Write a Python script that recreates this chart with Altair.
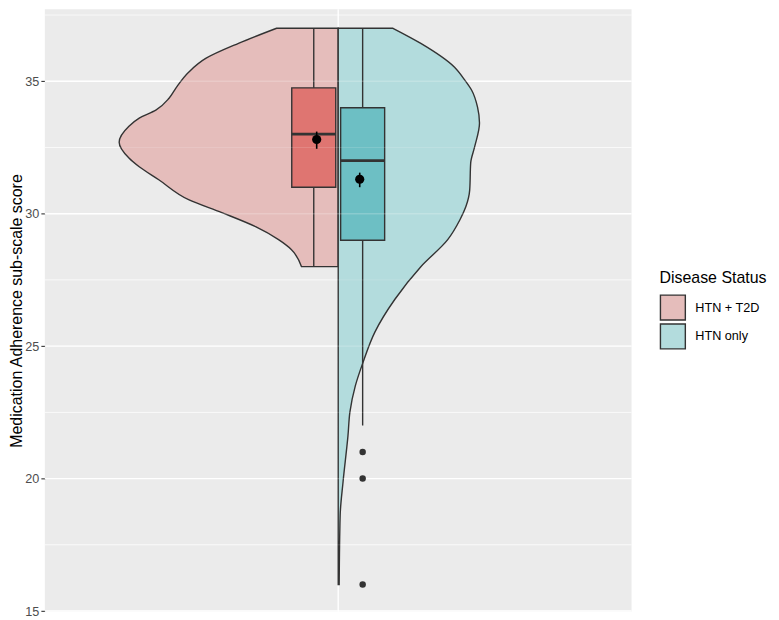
import altair as alt
import pandas as pd

groups = ["HTN + T2D", "HTN only"]

# Violin outline (score, half-width in x-scale units)
t2d_y = [28.0, 28.65, 29.02, 29.51, 30.04, 30.53, 31.28, 31.77, 32.1, 32.7, 33.3,
         33.61, 33.91, 34.36, 34.74, 35.34, 35.86, 36.43, 37.0]
t2d_w = [0.075, 0.096, 0.122, 0.169, 0.238, 0.306, 0.367, 0.407, 0.428, 0.448, 0.428,
         0.407, 0.373, 0.346, 0.332, 0.306, 0.271, 0.204, 0.126]
htn_y = [16.0, 18.61, 19.89, 21.62, 22.52, 23.5, 24.4, 25.53, 26.77, 28.0, 29.02,
         29.77, 30.26, 30.9, 31.92, 32.52, 33.42, 34.02, 34.66, 35.04, 35.53, 36.43, 37.0]
htn_w = [0.002, 0.004, 0.010, 0.020, 0.024, 0.035, 0.051, 0.075, 0.116, 0.169, 0.224,
         0.249, 0.261, 0.269, 0.271, 0.279, 0.289, 0.285, 0.273, 0.259, 0.238, 0.169, 0.112]

# Box plot statistics
box_lower = [28, 22]
box_q1 = [31, 29]
box_median = [33, 32]
box_q3 = [34.75, 34]
box_upper = [37, 37]
mean_val = [32.8, 31.3]
mean_lo = [32.45, 31.0]
mean_hi = [33.1, 31.55]
outliers_htn = [21, 20, 16]

major_grid = [15, 20, 25, 30, 35]
minor_grid = [17.5, 22.5, 27.5, 32.5, 37.5]
y_ticks = [15, 20, 25, 30, 35]

violin_colors = ["#E5BDBB", "#B3DCDD"]
box_colors = ["#DF7571", "#6DBFC4"]

BOX_OFF = 0.05
BOX_HALF = 0.045
MEAN_OFF = 0.044

vrows = []
for y, w in zip(t2d_y, t2d_w):
    vrows.append({"group": groups[0], "score": y, "x1": -w, "x2": 0.0})
for y, w in zip(htn_y, htn_w):
    vrows.append({"group": groups[1], "score": y, "x1": 0.0, "x2": w})
vdf = pd.DataFrame(vrows)

bdf = pd.DataFrame({
    "group": groups,
    "cx": [-BOX_OFF, BOX_OFF],
    "bx1": [-BOX_OFF - BOX_HALF, BOX_OFF - BOX_HALF],
    "bx2": [-BOX_OFF + BOX_HALF, BOX_OFF + BOX_HALF],
    "mx": [-MEAN_OFF, MEAN_OFF],
    "lower": box_lower, "q1": box_q1, "median": box_median, "q3": box_q3,
    "upper": box_upper, "mean": mean_val, "mlo": mean_lo, "mhi": mean_hi,
})
odf = pd.DataFrame({"cx": [BOX_OFF] * len(outliers_htn), "score": outliers_htn})

xscale = alt.Scale(domain=[-0.6, 0.6], nice=False, zero=False)
yscale = alt.Scale(domain=[14.97, 37.72], nice=False, zero=False)

yaxis = alt.Axis(values=y_ticks, grid=False, domain=False, tickColor="#333333",
                 tickSize=4, tickWidth=1.1, labelColor="#4D4D4D", labelFontSize=12.7,
                 labelFont="Liberation Sans", labelPadding=2,
                 title="Medication Adherence sub-scale score", titleFontSize=16,
                 titleFont="Liberation Sans", titleFontWeight="normal",
                 titleColor="#000000", titlePadding=0)


def X(f):
    return alt.X(f, type="quantitative", scale=xscale, axis=None, stack=None)


def Y(f):
    return alt.Y(f, type="quantitative", scale=yscale, axis=yaxis,
                 title="Medication Adherence sub-scale score")


gmaj = alt.Chart(pd.DataFrame({"v": major_grid})).mark_rule(
    color="white", strokeWidth=1.4).encode(y=Y("v"))
gmin = alt.Chart(pd.DataFrame({"v": minor_grid})).mark_rule(
    color="white", strokeWidth=0.7).encode(y=Y("v"))
gvert = alt.Chart(pd.DataFrame({"v": [0.0]})).mark_rule(
    color="white", strokeWidth=1.4).encode(x=X("v"))

violin = alt.Chart(vdf).mark_area(
    orient="horizontal", interpolate="monotone", stroke="#333333", strokeWidth=1.4,
    fillOpacity=1).encode(
    y=Y("score"), x=X("x1"), x2="x2",
    fill=alt.Fill("group:N", scale=alt.Scale(domain=groups, range=violin_colors),
                  legend=alt.Legend(title="Disease Status")),
    detail="group:N",
)

whisk = alt.Chart(bdf).mark_rule(color="#333333", strokeWidth=1.4).encode(
    x=X("cx"), y=Y("lower"), y2="upper")
box = alt.Chart(bdf).mark_rect(stroke="#333333", strokeWidth=1.4).encode(
    x=X("bx1"), x2="bx2", y=Y("q1"), y2="q3",
    color=alt.Color("group:N", scale=alt.Scale(domain=groups, range=box_colors),
                    legend=None))
med = alt.Chart(bdf).mark_rule(color="#333333", strokeWidth=2.8).encode(
    x=X("bx1"), x2="bx2", y=Y("median"))

gover = alt.Chart(pd.DataFrame({"v": major_grid})).mark_rule(
    color="white", strokeWidth=1.4, opacity=0.2).encode(y=Y("v"))
gover2 = alt.Chart(pd.DataFrame({"v": minor_grid})).mark_rule(
    color="white", strokeWidth=0.7, opacity=0.2).encode(y=Y("v"))

outl = alt.Chart(odf).mark_circle(color="#333333", size=42, opacity=1).encode(
    x=X("cx"), y=Y("score"))
merr = alt.Chart(bdf).mark_rule(color="black", strokeWidth=1.6).encode(
    x=X("mx"), y=Y("mlo"), y2="mhi")
mpt = alt.Chart(bdf).mark_circle(color="black", size=85, opacity=1).encode(
    x=X("mx"), y=Y("mean"))

chart = alt.layer(gmaj, gmin, gvert, violin, whisk, box, med, gover, gover2,
                  outl, merr, mpt).resolve_scale(
    fill="independent", color="independent").properties(
    width=589, height=605,
    autosize=alt.AutoSizeParams(type="none"),
    padding={"left": 37, "top": 0, "right": 140, "bottom": 7},
).configure_view(fill="#EBEBEB", stroke=None).configure_legend(
    orient="none", legendX=617, legendY=262,
    titleFontSize=16, titleFont="Liberation Sans", titleFontWeight="normal",
    titleColor="#000000", titlePadding=8,
    labelFontSize=12.7, labelFont="Liberation Sans", labelColor="#000000",
    labelOffset=9, symbolType="square", symbolSize=625,
    symbolStrokeColor="#333333", symbolStrokeWidth=1.4, rowPadding=-3,
    symbolOpacity=1,
)

chart.save("out.html", embed_options={"renderer": "svg", "actions": False})
